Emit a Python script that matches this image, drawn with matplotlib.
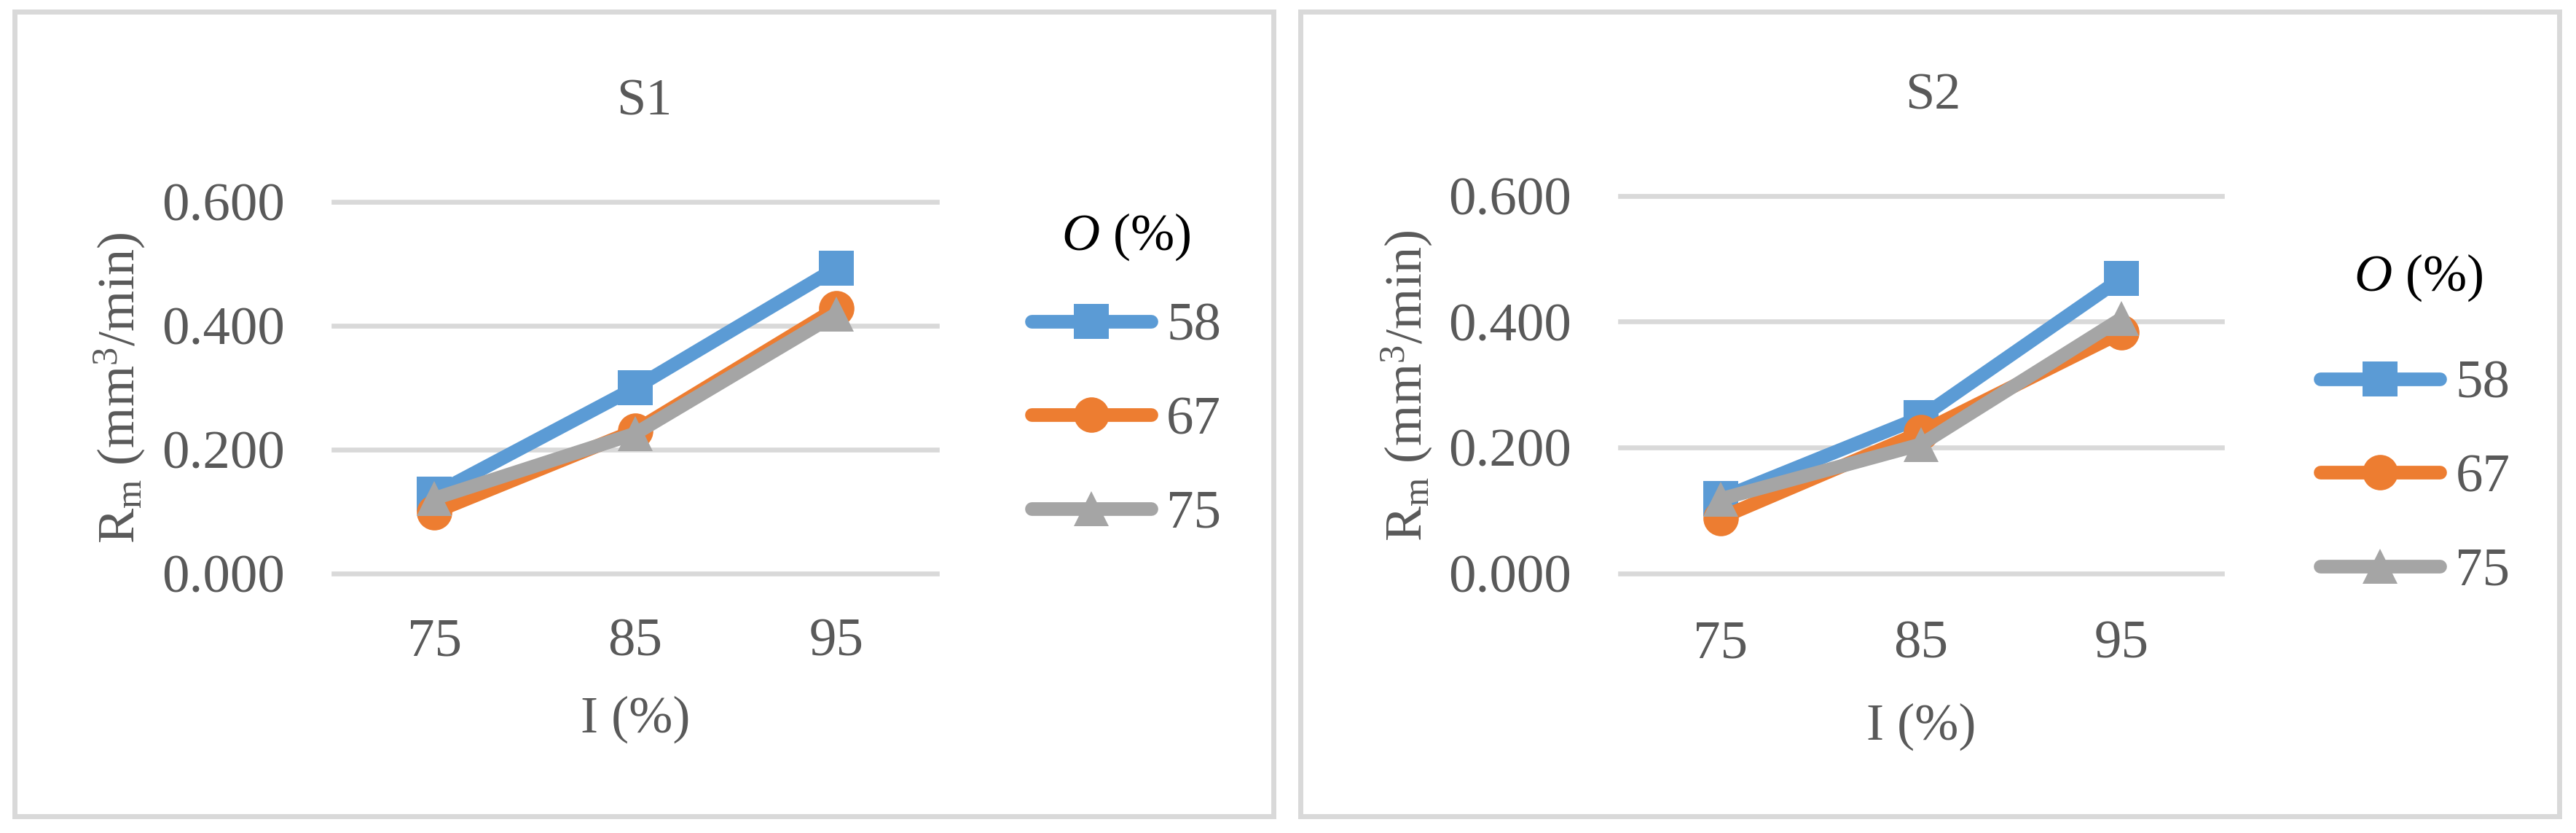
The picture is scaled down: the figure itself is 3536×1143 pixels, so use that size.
import matplotlib
matplotlib.use('Agg')
import matplotlib.pyplot as plt
from matplotlib.patches import Rectangle

plt.rcParams['font.family'] = ['Liberation Serif', 'DejaVu Serif']
plt.rcParams['mathtext.fontset'] = 'custom'
plt.rcParams['mathtext.rm'] = 'Liberation Serif'
plt.rcParams['mathtext.it'] = 'Liberation Serif:italic'

# data
i_levels = ['75', '85', '95']
o_levels = ['58', '67', '75']
s1_58 = [0.128, 0.300, 0.493]
s1_67 = [0.099, 0.231, 0.428]
s1_75 = [0.121, 0.226, 0.419]
s2_58 = [0.119, 0.248, 0.469]
s2_67 = [0.088, 0.224, 0.383]
s2_75 = [0.118, 0.205, 0.405]
y_ticks = [0.0, 0.2, 0.4, 0.6]

colors = ['#5B9BD5', '#ED7D31', '#A5A5A5']
markers = ['s', 'o', '^']
txt = '#595959'
grid = '#D9D9D9'

W, H = 3536, 1143
fig = plt.figure(figsize=(W / 100, H / 100), dpi=100)


def fx(x):
    return x / W


def fy(y):
    return 1 - y / H


# panel frames
for x0, x1 in [(19.5, 1747.5), (1785, 3513)]:
    fig.patches.append(Rectangle((fx(x0), fy(1120)), fx(x1 - x0), (1120 - 15.5) / H,
                                 transform=fig.transFigure, fill=False,
                                 edgecolor=grid, linewidth=5))

panels = [
    dict(title='S1', data=[s1_58, s1_67, s1_75], box=(458, 1286, 277, 787),
         title_xy=(884, 157), xpad=44, ypad=48, ylab_x=-0.309, ylab_y=0.5,
         xlab_y=-0.329, leg_xy=(1416, 577), ltitle_xy=(1546, 343)),
    dict(title='S2', data=[s2_58, s2_67, s2_75], box=(2224, 3050, 268.6, 786.7),
         title_xy=(2653, 150), xpad=46, ypad=48, ylab_x=-0.309, ylab_y=0.496,
         xlab_y=-0.344, leg_xy=(3185, 656), ltitle_xy=(3320, 399)),
]

for p in panels:
    l, r, t, b = p['box']
    ax = fig.add_axes([fx(l), fy(b), fx(r - l), (b - t) / H])
    x = range(len(i_levels))
    for vals, c, m, lab in zip(p['data'], colors, markers, o_levels):
        ax.plot(x, vals, color=c, marker=m, markersize=35, markeredgewidth=0,
                linewidth=13.5, solid_capstyle='round', solid_joinstyle='round',
                label=lab, clip_on=False)
    ax.set_xlim(-0.5, 2.5)
    ax.set_ylim(0, 0.6)
    ax.set_xticks(list(x))
    ax.set_xticklabels(i_levels)
    ax.set_yticks(y_ticks)
    ax.set_yticklabels(['%.3f' % v for v in y_ticks])
    for s in ax.spines.values():
        s.set_visible(False)
    ax.tick_params(axis='both', length=0, labelsize=54, colors=txt)
    ax.tick_params(axis='x', pad=p['xpad'])
    ax.tick_params(axis='y', pad=p['ypad'])
    ax.yaxis.grid(True, color=grid, linewidth=4.8)
    ax.set_axisbelow(True)
    for gl in ax.get_ygridlines():
        gl.set_clip_on(False)

    ax.set_ylabel(r'R$_\mathrm{m}$ (mm$^\mathrm{3}$/min)', fontsize=52, color=txt)
    ax.yaxis.set_label_coords(p['ylab_x'], p['ylab_y'])
    ax.set_xlabel('I (%)', fontsize=52, color=txt)
    ax.xaxis.set_label_coords(0.5, p['xlab_y'])

    fig.text(fx(p['title_xy'][0]), fy(p['title_xy'][1]), p['title'], fontsize=52,
             color=txt, ha='center', va='baseline')

    leg = ax.legend(loc='center left', bbox_to_anchor=(fx(p['leg_xy'][0]), fy(p['leg_xy'][1])),
                    bbox_transform=fig.transFigure, frameon=False, fontsize=54,
                    handlelength=2.19, handletextpad=0.28, labelspacing=0.80,
                    borderpad=0, borderaxespad=0, numpoints=1)
    for tx in leg.get_texts():
        tx.set_color(txt)
    fig.text(fx(p['ltitle_xy'][0]), fy(p['ltitle_xy'][1]), r'$\mathit{O}$ (%)',
             fontsize=52, color='black', ha='center', va='baseline')

fig.savefig('out.png', dpi=100, facecolor='white')
